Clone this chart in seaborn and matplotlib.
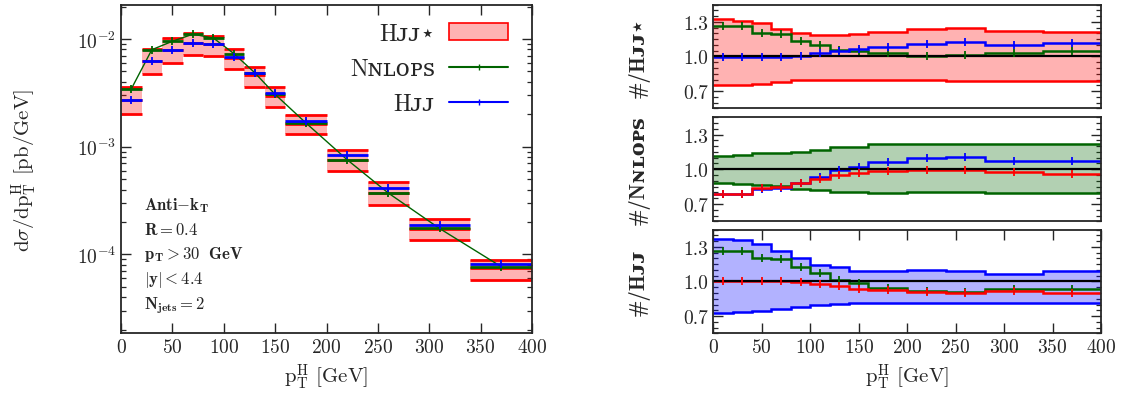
import numpy as np
import matplotlib
matplotlib.use("Agg")
import matplotlib.pyplot as plt
import seaborn as sns
from matplotlib.patches import Patch
from matplotlib.lines import Line2D
from matplotlib.ticker import MultipleLocator, StrMethodFormatter

# bins in pT^H [GeV]
edges = [0, 20, 40, 60, 80, 100, 120, 140, 160, 200, 240, 280, 340, 400]

# d sigma / d pT^H [pb/GeV]
hjjs = [2.72e-3, 6.2e-3, 7.9e-3, 9.2e-3, 8.9e-3, 6.7e-3, 4.62e-3, 2.96e-3, 1.62e-3, 7.5e-4, 3.73e-4, 1.73e-4, 7.4e-5]
hjjs_hi = [3.61e-3, 8.07e-3, 1.02e-2, 1.14e-2, 1.07e-2, 8.04e-3, 5.47e-3, 3.57e-3, 1.98e-3, 9.28e-4, 4.67e-4, 2.12e-4, 8.93e-5]
hjjs_lo = [2.02e-3, 4.71e-3, 6.00e-3, 7.16e-3, 6.96e-3, 5.27e-3, 3.61e-3, 2.36e-3, 1.30e-3, 5.9e-4, 2.90e-4, 1.36e-4, 5.74e-5]
nnlops = [3.44e-3, 7.96e-3, 9.53e-3, 1.11e-2, 1.02e-2, 7.3e-3, 4.88e-3, 3.06e-3, 1.66e-3, 7.58e-4, 3.72e-4, 1.74e-4, 7.69e-5]
hjj = [2.72e-3, 6.25e-3, 7.85e-3, 9.25e-3, 8.93e-3, 6.81e-3, 4.84e-3, 3.14e-3, 1.75e-3, 8.30e-4, 4.15e-4, 1.88e-4, 8.20e-5]

# ratios to Hjj*
r1_hi = [1.326, 1.309, 1.291, 1.242, 1.207, 1.186, 1.186, 1.198, 1.212, 1.236, 1.247, 1.224, 1.212]
r1_lo = [0.753, 0.753, 0.761, 0.779, 0.793, 0.796, 0.797, 0.797, 0.799, 0.799, 0.787, 0.790, 0.790]
r1_nnlops = [1.265, 1.265, 1.204, 1.195, 1.137, 1.099, 1.055, 1.047, 1.026, 1.006, 1.012, 1.026, 1.047]
r1_hjj = [0.995, 0.995, 0.995, 0.995, 1.003, 1.026, 1.050, 1.064, 1.081, 1.105, 1.122, 1.099, 1.116]

# ratios to NNLOPS
r2_hi = [1.115, 1.126, 1.138, 1.138, 1.150, 1.164, 1.196, 1.196, 1.219, 1.216, 1.216, 1.221, 1.221]
r2_lo = [0.884, 0.873, 0.861, 0.853, 0.832, 0.821, 0.804, 0.804, 0.795, 0.804, 0.804, 0.798, 0.798]
r2_hjj = [0.789, 0.789, 0.830, 0.838, 0.884, 0.933, 0.991, 1.023, 1.061, 1.098, 1.109, 1.072, 1.072]
r2_hjjs = [0.789, 0.789, 0.838, 0.847, 0.884, 0.913, 0.948, 0.965, 0.983, 0.997, 0.994, 0.979, 0.959]

# ratios to Hjj
r3_hi = [1.372, 1.361, 1.329, 1.268, 1.200, 1.147, 1.124, 1.095, 1.087, 1.098, 1.090, 1.069, 1.087]
r3_lo = [0.723, 0.732, 0.744, 0.758, 0.778, 0.792, 0.801, 0.810, 0.813, 0.810, 0.810, 0.813, 0.810]
r3_nnlops = [1.268, 1.268, 1.208, 1.194, 1.130, 1.073, 1.009, 0.983, 0.943, 0.917, 0.905, 0.939, 0.939]
r3_hjjs = [1.0, 1.0, 1.0, 1.0, 0.997, 0.977, 0.957, 0.939, 0.928, 0.905, 0.896, 0.920, 0.900]

cuts = [r'$\mathbf{Anti{-}k_{T}}$', r'$\mathbf{R = 0.4}$', r'$\mathbf{p_{T} > 30\ \ GeV}$',
        r'$\mathbf{|y| < 4.4}$', r'$\mathbf{N_{jets}{=}2}$']

RED, GREEN, BLUE = '#ff0000', '#006400', '#0000ff'
lab_hjjs = 'Hᴊᴊ⋆'
lab_nnlops = 'Nɴʟᴏᴘꜱ'
lab_hjj = 'Hᴊᴊ'

sns.set_style('ticks')
plt.rcParams['font.family'] = ['cmr10', 'DejaVu Serif', 'DejaVu Sans']
plt.rcParams['mathtext.fontset'] = 'cm'
plt.rcParams['axes.formatter.use_mathtext'] = True
plt.rcParams['axes.unicode_minus'] = False
plt.rcParams['axes.linewidth'] = 1.3

edges = np.array(edges)
lefts, rights = edges[:-1], edges[1:]
centers = (lefts + rights) / 2

fig = plt.figure(figsize=(11.31, 4.06), dpi=100)
ax = fig.add_axes([0.107, 0.1773, 0.3634, 0.8079])

# main panel
ax.bar(lefts, np.array(hjjs_hi) - np.array(hjjs_lo), bottom=hjjs_lo, width=rights - lefts,
       align='edge', color=RED, alpha=0.3, lw=0)
ax.hlines(hjjs_hi, lefts, rights, color=RED, lw=2)
ax.hlines(hjjs_lo, lefts, rights, color=RED, lw=2)
ax.hlines(hjjs, lefts, rights, color=RED, lw=2)
ax.hlines(nnlops, lefts, rights, color=GREEN, lw=2)
sns.lineplot(x=centers, y=nnlops, ax=ax, color=GREEN, lw=1, legend=False)
ax.plot(centers, nnlops, ls='none', marker='|', ms=6, mew=1.3, color=GREEN)
ax.hlines(hjj, lefts, rights, color=BLUE, lw=2)
ax.plot(centers, hjj, ls='none', marker='|', ms=6, mew=1.3, color=BLUE)

ax.set_yscale('log')
ax.set_ylim(1.86e-5, 2.07e-2)
ax.set_xlim(0, 400)
ax.xaxis.set_major_locator(MultipleLocator(50))
ax.tick_params(which='both', direction='in', top=True, right=True, labelsize=14)
ax.tick_params(which='major', length=7, width=1)
ax.tick_params(which='minor', length=3.5, width=0.9)
ax.set_xlabel(r'p$_\mathrm{T}^\mathrm{H}$ [GeV]', fontsize=15)
ax.set_ylabel(r'd$\sigma$/dp$_\mathrm{T}^\mathrm{H}$ [pb/GeV]', fontsize=15)
ax.yaxis.set_label_coords(-0.2, 0.5)

handles = [Patch(facecolor=(1, 0.7, 0.7), edgecolor=RED, lw=1.2),
           Line2D([], [], color=GREEN, lw=1.5, marker='|', ms=4),
           Line2D([], [], color=BLUE, lw=1.5, marker='|', ms=4)]
ax.legend(handles, [lab_hjjs, lab_nnlops, lab_hjj], loc='upper right',
          bbox_to_anchor=(0.985, 1.0), markerfirst=False,
          frameon=False, fontsize=17, handlelength=2.5, labelspacing=0.55,
          borderaxespad=0.35, handletextpad=0.6)

for k, s in enumerate(cuts):
    ax.text(0.056, 0.378 - k * 0.0752, s, transform=ax.transAxes, fontsize=12, va='baseline')

# ratio panels
panels = [
    ([0.6307, 0.7308, 0.3428, 0.2552], r1_hi, r1_lo, RED, [(r1_nnlops, GREEN), (r1_hjj, BLUE)], '#/' + lab_hjjs),
    ([0.6307, 0.4525, 0.3428, 0.2562], r2_hi, r2_lo, GREEN, [(r2_hjj, BLUE), (r2_hjjs, RED)], '#/' + lab_nnlops),
    ([0.6307, 0.1766, 0.3428, 0.2552], r3_hi, r3_lo, BLUE, [(r3_nnlops, GREEN), (r3_hjjs, RED)], '#/' + lab_hjj),
]
for i, (rect, hi, lo, col, curves, lab) in enumerate(panels):
    r = fig.add_axes(rect)
    r.stairs(hi, edges, baseline=lo, fill=True, color=col, alpha=0.3, lw=0)
    r.stairs(hi, edges, baseline=None, color=col, lw=1.8)
    r.stairs(lo, edges, baseline=None, color=col, lw=1.8)
    r.axhline(1.0, color='black', lw=1.6)
    for vals, c in curves:
        r.stairs(vals, edges, baseline=None, color=c, lw=1.8)
        r.plot(centers, vals, ls='none', marker='|', ms=6, mew=1.3, color=c)
    r.set_xlim(0, 400)
    r.set_ylim(0.55, 1.45)
    r.set_yticks([0.7, 1.0, 1.3])
    r.yaxis.set_minor_locator(MultipleLocator(0.05))
    r.yaxis.set_major_formatter(StrMethodFormatter('{x:.1f}'))
    r.xaxis.set_major_locator(MultipleLocator(50))
    r.tick_params(which='both', direction='in', right=True, top=True, labelsize=14)
    r.tick_params(which='major', length=7, width=1)
    r.tick_params(which='minor', length=3.5, width=0.9)
    if i < 2:
        r.tick_params(axis='x', which='both', length=0, labelbottom=False)
    else:
        r.set_xlabel(r'p$_\mathrm{T}^\mathrm{H}$ [GeV]', fontsize=15)
    r.set_ylabel(lab, fontsize=15, fontweight='bold',
                 family=['cmb10', 'DejaVu Serif', 'DejaVu Sans'])
    r.yaxis.set_label_coords(-0.165, 0.5)

fig.savefig('out.png', dpi=100)
